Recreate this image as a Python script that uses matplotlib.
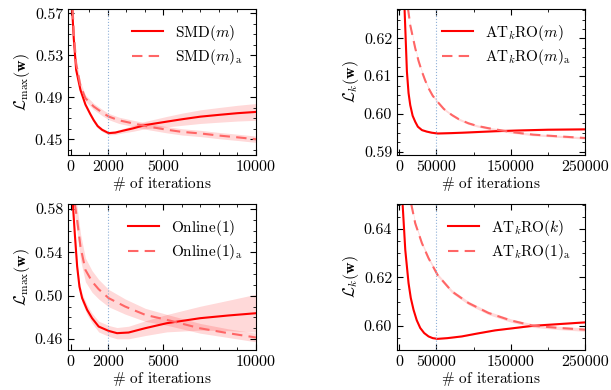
import matplotlib
matplotlib.use("Agg")
import matplotlib.pyplot as plt
from matplotlib.ticker import MultipleLocator
import numpy as np

plt.rcParams['font.family'] = 'serif'
plt.rcParams['font.serif'] = ['cmr10']
plt.rcParams['mathtext.fontset'] = 'cm'
plt.rcParams['axes.unicode_minus'] = False
plt.rcParams['axes.formatter.use_mathtext'] = True

# ---- top left: SMD ----
smd_x = [75, 160, 290, 520, 790, 1050, 1240, 1450, 1690, 2045, 2400, 2765, 3400, 4020, 5200, 6000, 7000, 8000, 9000, 10000]
smd_y = [0.574, 0.546, 0.516, 0.497, 0.483, 0.474, 0.468, 0.4625, 0.459, 0.4558, 0.4563, 0.4579, 0.4605, 0.4635, 0.4668, 0.4690, 0.4715, 0.4732, 0.4748, 0.4760]
smd_err = [0.002, 0.002, 0.002, 0.002, 0.002, 0.002, 0.002, 0.0018, 0.0017, 0.0017, 0.0018, 0.002, 0.0028, 0.0035, 0.005, 0.0058, 0.0065, 0.007, 0.0075, 0.008]
smda_x = [100, 160, 290, 520, 790, 1240, 1690, 2045, 2600, 3300, 4200, 5200, 6000, 7000, 8000, 9000, 10000]
smda_y = [0.574, 0.552, 0.522, 0.501, 0.489, 0.4811, 0.4755, 0.4716, 0.4680, 0.4653, 0.4620, 0.4590, 0.4570, 0.4555, 0.4535, 0.4518, 0.4500]
smda_err = [0.004, 0.004, 0.004, 0.0035, 0.003, 0.003, 0.003, 0.003, 0.003, 0.003, 0.003, 0.003, 0.003, 0.003, 0.003, 0.003, 0.003]

# ---- top right: ATkRO(m) ----
atm_x = [7100, 10300, 12500, 14800, 18000, 21500, 25000, 30500, 37000, 43900, 51500, 70000, 84200, 129000, 160000, 200000, 250000]
atm_y = [0.628, 0.6112, 0.6055, 0.6023, 0.5995, 0.5979, 0.5966, 0.5957, 0.5953, 0.5950, 0.5948, 0.5949, 0.5950, 0.5954, 0.5956, 0.5958, 0.5959]
atm_err = [0.0002] * len(atm_x)
atma_x = [11700, 14800, 21500, 26000, 30500, 35000, 39400, 45000, 51500, 60000, 70800, 80000, 93100, 105000, 120000, 150000, 180000, 210000, 250000]
atma_y = [0.628, 0.6235, 0.6174, 0.6140, 0.6112, 0.6088, 0.6068, 0.6048, 0.6032, 0.6013, 0.5997, 0.5986, 0.5975, 0.5968, 0.5962, 0.5952, 0.5945, 0.5941, 0.5936]
atma_err = [0.0003] * len(atma_x)

# ---- bottom left: Online(1) ----
onl_x = [110, 215, 344, 468, 613, 882, 1150, 1506, 2045, 2496, 3120, 4020, 5186, 6980, 8500, 10000]
onl_y = [0.585, 0.5576, 0.5269, 0.5084, 0.4978, 0.487, 0.4793, 0.4716, 0.4676, 0.4655, 0.4661, 0.4701, 0.4747, 0.4793, 0.4818, 0.4839]
onl_err = [0.004, 0.004, 0.004, 0.004, 0.004, 0.0045, 0.0045, 0.005, 0.005, 0.0052, 0.0058, 0.0068, 0.008, 0.011, 0.014, 0.0175]
onla_x = [215, 344, 522, 790, 1150, 1506, 2045, 2940, 4020, 5186, 6980, 8500, 10000]
onla_y = [0.585, 0.5699, 0.5453, 0.5238, 0.5131, 0.506, 0.4978, 0.490, 0.4824, 0.4778, 0.4700, 0.4655, 0.4615]
onla_err = [0.012, 0.012, 0.012, 0.011, 0.010, 0.009, 0.008, 0.007, 0.006, 0.005, 0.0045, 0.004, 0.004]

# ---- bottom right: ATkRO(k) ----
atk_x = [4500, 8100, 12500, 15500, 19200, 23500, 28200, 33500, 39400, 45000, 51500, 65000, 84200, 105000, 129000, 180500, 220000, 250000]
atk_y = [0.6503, 0.6313, 0.6176, 0.6115, 0.6066, 0.6023, 0.5991, 0.5970, 0.5956, 0.5949, 0.5946, 0.5949, 0.5956, 0.5968, 0.5981, 0.6000, 0.6008, 0.6014]
atk_err = [0.0002] * len(atk_x)
atka_x = [16100, 21500, 30500, 39400, 51500, 70800, 93100, 120000, 150000, 180500, 215000, 250000]
atka_y = [0.6503, 0.6423, 0.6341, 0.6279, 0.6210, 0.6142, 0.6094, 0.6053, 0.6022, 0.6000, 0.5991, 0.5984]
atka_err = [0.0007] * len(atka_x)

panels = [
    dict(x=smd_x, y=smd_y, e=smd_err, xa=smda_x, ya=smda_y, ea=smda_err,
         lab=r'$\mathrm{SMD}(m)$', laba=r'$\mathrm{SMD}(m)_{\mathrm{a}}$',
         ylabel=r'$\mathcal{L}_{\max}(\mathbf{w})$', vline=2000,
         xlim=(-150, 10000), ylim=(0.435, 0.574),
         xticks=[0, 2000, 5000, 10000], yticks=[0.45, 0.49, 0.53, 0.57],
         xminor=1000, yminor=0.01, ylabels=['0.45', '0.49', '0.53', '0.57']),
    dict(x=atm_x, y=atm_y, e=atm_err, xa=atma_x, ya=atma_y, ea=atma_err,
         lab=r'$\mathrm{AT}_k\mathrm{RO}(m)$', laba=r'$\mathrm{AT}_k\mathrm{RO}(m)_{\mathrm{a}}$',
         ylabel=r'$\mathcal{L}_k(\mathbf{w})$', vline=50000,
         xlim=(-3000, 250000), ylim=(0.5891, 0.6278),
         xticks=[0, 50000, 150000, 250000], yticks=[0.59, 0.60, 0.61, 0.62],
         xminor=50000, yminor=0.0025, ylabels=['0.59', '0.60', '0.61', '0.62']),
    dict(x=onl_x, y=onl_y, e=onl_err, xa=onla_x, ya=onla_y, ea=onla_err,
         lab=r'$\mathrm{Online}(1)$', laba=r'$\mathrm{Online}(1)_{\mathrm{a}}$',
         ylabel=r'$\mathcal{L}_{\max}(\mathbf{w})$', vline=2000,
         xlim=(-150, 10000), ylim=(0.450, 0.5846),
         xticks=[0, 2000, 5000, 10000], yticks=[0.46, 0.50, 0.54, 0.58],
         xminor=1000, yminor=0.01, ylabels=['0.46', '0.50', '0.54', '0.58']),
    dict(x=atk_x, y=atk_y, e=atk_err, xa=atka_x, ya=atka_y, ea=atka_err,
         lab=r'$\mathrm{AT}_k\mathrm{RO}(k)$', laba=r'$\mathrm{AT}_k\mathrm{RO}(1)_{\mathrm{a}}$',
         ylabel=r'$\mathcal{L}_k(\mathbf{w})$', vline=50000,
         xlim=(-3000, 250000), ylim=(0.590, 0.6503),
         xticks=[0, 50000, 150000, 250000], yticks=[0.60, 0.62, 0.64],
         xminor=50000, yminor=0.005, ylabels=['0.60', '0.62', '0.64']),
]

fig = plt.figure(figsize=(6.11, 3.9), dpi=100)
positions = [
    [0.1113, 0.6026, 0.3077, 0.3744],
    [0.6498, 0.6026, 0.3077, 0.3744],
    [0.1113, 0.1026, 0.3077, 0.3744],
    [0.6498, 0.1026, 0.3077, 0.3744],
]

for p, pos in zip(panels, positions):
    ax = fig.add_axes(pos)
    x = np.array(p['x']); y = np.array(p['y']); e = np.array(p['e'])
    xa = np.array(p['xa']); ya = np.array(p['ya']); ea = np.array(p['ea'])
    ax.fill_between(x, y - e, y + e, color='red', alpha=0.15, lw=0)
    ax.fill_between(xa, ya - ea, ya + ea, color='red', alpha=0.15, lw=0)
    ax.plot(x, y, color='red', lw=1.5, label=p['lab'])
    ax.plot(xa, ya, color='#ff6666', lw=1.5, ls=(0, (5, 3)), label=p['laba'])
    ax.axvline(p['vline'], color='#8fb0d8', lw=0.8, ls=':')
    ax.set_xlim(p['xlim'])
    ax.set_ylim(p['ylim'])
    ax.set_xticks(p['xticks'])
    ax.set_xticklabels([str(t) for t in p['xticks']])
    ax.set_yticks(p['yticks'])
    ax.set_yticklabels(p['ylabels'])
    ax.xaxis.set_minor_locator(MultipleLocator(p['xminor']))
    ax.yaxis.set_minor_locator(MultipleLocator(p['yminor']))
    ax.tick_params(which='both', direction='in', top=True, right=True, labelsize=11.5)
    ax.tick_params(which='major', length=4, width=0.8)
    ax.tick_params(which='minor', length=2, width=0.6)
    ax.set_xlabel(r'$\#$ of iterations', fontsize=11, labelpad=1)
    ax.set_ylabel(p['ylabel'], fontsize=11.5, labelpad=2)
    ax.legend(loc='upper right', bbox_to_anchor=(1.0, 1.0), frameon=False,
              fontsize=11, handlelength=2.0, labelspacing=0.28)

fig.savefig('out.png', dpi=100)
